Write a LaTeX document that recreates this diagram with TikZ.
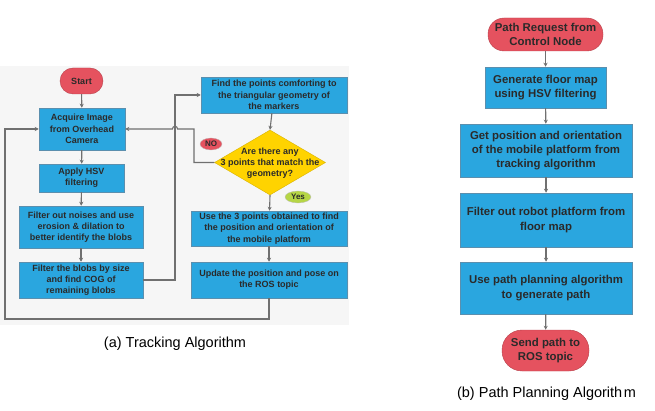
\documentclass[tikz,border=0pt]{standalone}
\usepackage{fontspec}
\setmainfont{Liberation Sans}
\usetikzlibrary{shapes.geometric,arrows.meta}
\definecolor{boxblue}{HTML}{2AA6DF}
\definecolor{boxedge}{HTML}{5B8FAE}
\definecolor{pillred}{HTML}{E5525F}
\definecolor{diayel}{HTML}{FFD300}
\definecolor{yesgreen}{HTML}{B6D646}
\definecolor{linegray}{HTML}{707070}
\definecolor{txt}{HTML}{2A2A2A}
\definecolor{bggray}{HTML}{F6F6F6}
\tikzset{
  sbox/.style={rectangle,fill=boxblue,draw=boxedge,line width=0.5pt,inner sep=0pt,align=center,text=txt,font=\bfseries\fontsize{9}{11.3}\selectfont},
  bbox/.style={rectangle,fill=boxblue,draw=boxedge,line width=0.5pt,inner sep=0pt,align=center,text=txt,font=\bfseries\fontsize{11.4}{14.2}\selectfont},
  pill/.style={rectangle,rounded corners=#1,fill=pillred,draw=pillred!80!black,line width=0.4pt,inner sep=0pt,align=center,text=txt},
  conn/.style={draw=linegray,line width=1.1pt},
  arr/.style={conn,-{Stealth[length=4pt,width=4pt]}},
  tag/.style={ellipse,inner sep=0pt,text=txt,font=\bfseries\fontsize{8}{9}\selectfont,draw=black!25,line width=0.3pt},
  captext/.style={text=black,font=\fontsize{14.5}{16}\selectfont,anchor=base,inner sep=0pt}
}
\begin{document}
\begin{tikzpicture}[x=1pt,y=-1pt]
\useasboundingbox (0,0) rectangle (655,411);
\fill[bggray] (0,66) rectangle (349,325);
% left panel
\node[pill=13,minimum width=43pt,minimum height=26pt,font=\bfseries\fontsize{9}{11}\selectfont] (start) at (81.5,81) {Start};
\node[sbox,minimum width=86pt,minimum height=42pt] (acq) at (82,129) {Acquire Image\\from Overhead\\Camera};
\node[sbox,minimum width=85pt,minimum height=28pt] (hsv) at (81.5,178) {Apply HSV\\filtering};
\node[sbox,minimum width=124pt,minimum height=42pt] (noise) at (81,227) {Filter out noises and use\\erosion \& dilation to\\better identify the blobs};
\node[sbox,minimum width=124pt,minimum height=36pt] (blobs) at (81,280) {Filter the blobs by size\\and find COG of\\remaining blobs};
\node[sbox,minimum width=146pt,minimum height=36pt] (find) at (274,95) {Find the points comforting to\\the triangular geometry of\\the markers};
\node[diamond,fill=diayel,draw=diayel!85!black,line width=0.4pt,minimum width=111pt,minimum height=65pt,inner sep=0pt] (dia) at (270,162.5) {};
\node[align=center,text=txt,font=\bfseries\fontsize{9}{11.3}\selectfont,inner sep=0pt] (diatext) at (270,163) {Are there any\\3 points that match the\\geometry?};
\node[sbox,minimum width=156pt,minimum height=35pt] (use3) at (269,228.5) {Use the 3 points obtained to find\\the position and orientation of\\the mobile platform};
\node[sbox,minimum width=156pt,minimum height=36pt] (upd) at (269,280) {Update the position and pose on\\the ROS topic};
\node[tag,fill=pillred,minimum width=22pt,minimum height=12pt] (no) at (211,144) {NO};
\node[tag,fill=yesgreen,minimum width=26pt,minimum height=12pt] (yes) at (298,197) {Yes};
\coordinate (j1) at (175,95);
\coordinate (n1) at (194,162.5);
\coordinate (n2) at (194,129);
\coordinate (h1) at (177.6,129);
\coordinate (h2) at (172.4,129);
\coordinate (b1) at (269,319);
\coordinate (b2) at (5,319);
\coordinate (b3) at (5,129);
\draw[arr] (start) -- (acq);
\draw[arr] (acq) -- (hsv);
\draw[arr] (hsv) -- (noise);
\draw[arr] (noise) -- (blobs);
\draw[arr] (blobs.east) -| (j1) -- (find.west);
\draw[arr] (find) -- (dia.north);
\draw[arr] (dia.south) -- (use3);
\draw[arr] (use3) -- (upd);
\draw[arr] (dia.west) -- (n1) -- (n2) -- (h1) .. controls (177.6,125.5) and (172.4,125.5) .. (h2) -- (acq.east);
\draw[arr] (upd.south) -- (b1) -- (b2) -- (b3) -- (acq.west);
\node[captext] (capa) at (175,347.5) {(a) Tracking Algorithm};
% right panel
\node[pill=16,minimum width=115pt,minimum height=33pt,font=\bfseries\fontsize{11.4}{14}\selectfont] (req) at (545.5,34.5) {Path Request from\\Control Node};
\node[bbox,minimum width=121pt,minimum height=41pt] (gen) at (545.5,87.5) {Generate floor map\\using HSV filtering};
\node[bbox,minimum width=172pt,minimum height=53pt] (getpos) at (546,150.5) {Get position and orientation\\of the mobile platform from\\tracking algorithm};
\node[bbox,minimum width=172pt,minimum height=54pt] (filt) at (546,220) {Filter out robot platform from\\floor map};
\node[bbox,minimum width=172pt,minimum height=52pt] (plan) at (546,288) {Use path planning algorithm\\to generate path};
\node[pill=20,minimum width=87pt,minimum height=41pt,font=\bfseries\fontsize{11.4}{14}\selectfont] (send) at (545.5,350.5) {Send path to\\ROS topic};
\draw[arr] (req) -- (gen);
\draw[arr] (gen) -- (getpos);
\draw[arr] (getpos) -- (filt);
\draw[arr] (filt) -- (plan);
\draw[arr] (plan) -- (send);
\node[captext] (capb) at (546.5,397.5) {(b) Path Planning Algorith\hspace{1.5pt}m};
\end{tikzpicture}
\end{document}
